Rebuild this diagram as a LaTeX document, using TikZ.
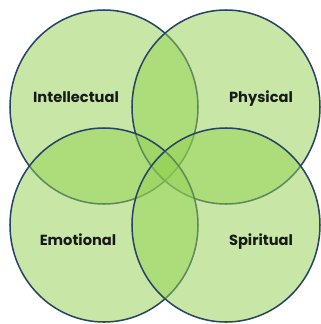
\documentclass[tikz,border=0pt]{standalone}
\usepackage{fontspec}
\setmainfont{Poppins}
\usepackage{tikz}
\definecolor{leafgreen}{RGB}{146,208,80}
\definecolor{rimblue}{RGB}{38,68,100}

\begin{document}
\begin{tikzpicture}[x=0.03cm,y=-0.03cm]
  \useasboundingbox (0,0) rectangle (321,324);
  \tikzset{ring/.style={draw=rimblue,line width=1.3pt,fill=leafgreen,fill opacity=0.5},
           word/.style={font=\bfseries\fontsize{12.5}{14}\selectfont,text=black!90}}
  % four overlapping circles
  \draw[ring] (104,107) ellipse [x radius=94, y radius=97];
  \draw[ring] (226,107) ellipse [x radius=94, y radius=97];
  \draw[ring] (104,225) ellipse [x radius=94, y radius=97];
  \draw[ring] (226,225) ellipse [x radius=94, y radius=97];
  % labels
  \node[word] (intel) at (76,97) {Intellectual};
  \node[word] (phys)  at (261,99) {Physical};
  \node[word] (emot)  at (78,240) {Emotional};
  \node[word] (spir)  at (261,242) {Spiritual};
\end{tikzpicture}
\end{document}
